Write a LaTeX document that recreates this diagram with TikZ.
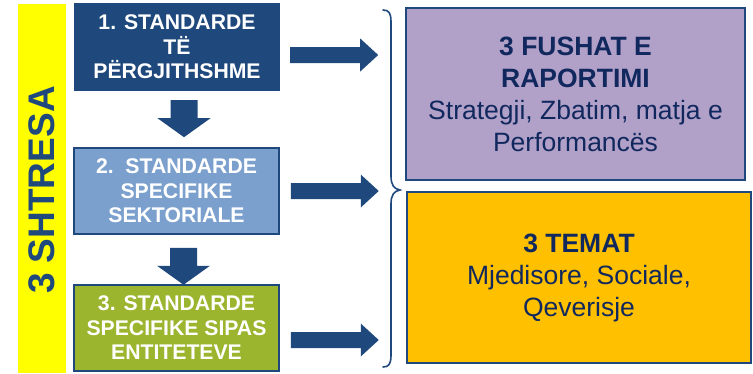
\documentclass[tikz,border=0pt]{standalone}
\usepackage{fontspec}
\setmainfont{Liberation Sans}
\usetikzlibrary{calc}
\definecolor{dblue}{HTML}{1F497D}
\definecolor{navy}{HTML}{10285E}
\definecolor{lblue}{HTML}{7BA0CD}
\definecolor{olive}{HTML}{9BB52E}
\definecolor{lilac}{HTML}{B1A0C7}
\definecolor{gold}{HTML}{FFC000}
\definecolor{ybar}{HTML}{FFFF00}
\tikzset{
  lbox/.style={rectangle, inner sep=0pt, align=center, text=white,
     font=\fontsize{21.2}{24.5}\selectfont\bfseries, minimum width=205pt, minimum height=86pt},
  rbox/.style={rectangle, draw=dblue, line width=1.5pt, inner sep=0pt, align=center, text=navy,
     font=\fontsize{26.5}{32}\selectfont},
  blk/.style={fill=dblue},
  brc/.style={draw=dblue, line width=1.6pt, line cap=round}
}
\begin{document}
\begin{tikzpicture}[x=1pt,y=-1pt]
\useasboundingbox (0,0) rectangle (753,373);
\fill[white] (0,0) rectangle (753,373);
% yellow bar
\node[rectangle, fill=ybar, minimum width=48pt, minimum height=369pt, inner sep=0pt] (bar) at (42,188.5) {};
\node[rotate=90, text=dblue, font=\fontsize{37}{40}\selectfont\bfseries] (bartxt) at (42,190) {3 SHTRESA};
% left boxes
\node[lbox, fill=dblue, minimum width=206pt, minimum height=88pt] (b1) at (177,47) {1. STANDARDE\\TË\\PËRGJITHSHME};
\node[lbox, fill=lblue, draw=dblue, line width=1.5pt] (b2) at (176.5,191) {2.\ \ STANDARDE\\SPECIFIKE\\SEKTORIALE};
\node[lbox, fill=olive, draw=dblue, line width=1.5pt] (b3) at (176.5,328) {3. STANDARDE\\SPECIFIKE SIPAS\\ENTITETEVE};
% right boxes
\node[rbox, fill=lilac, minimum width=339pt, minimum height=172pt] (r1) at (575.5,94)
  {\textbf{3 FUSHAT E}\\\textbf{RAPORTIMI}\\Strategji, Zbatim, matja e\\Performancës};
\node[rbox, fill=gold, minimum width=344pt, minimum height=171pt] (r2) at (579,277.5)
  {\textbf{3 TEMAT}\\Mjedisore, Sociale,\\Qeverisje};
% down block arrows
\coordinate (d1) at ($(b1.south)+(7,9)$);
\coordinate (d2) at ($(b2.south)+(7,13)$);
\foreach \c in {d1,d2} {
  \fill[blk] ($(\c)+(-13.5,0)$) -- ++(27,0) -- ++(0,18) -- ++(13,0) -- ++(-26.5,19) -- ++(-26.5,-19) -- ++(13,0) -- cycle;
}
% right block arrows
\coordinate (a1) at ($(b1.east)+(10,8)$);
\coordinate (a2) at ($(b2.east)+(11,0)$);
\coordinate (a3) at ($(b3.east)+(11,12)$);
\foreach \c in {a1,a2,a3} {
  \fill[blk] ($(\c)+(0,-8)$) -- ++(70,0) -- ++(0,-8.5) -- ++(18,16.5) -- ++(-18,16.5) -- ++(0,-8.5) -- ++(-70,0) -- cycle;
}
% brace
\coordinate (bt) at (383,10);
\coordinate (bm) at (400,190);
\coordinate (bb) at (383,367);
\draw[brc] (bt) .. controls (389,10) and (391,13) .. (391,22)
  -- (391,176) .. controls (391,185) and (394,189) .. (bm)
  .. controls (394,191) and (391,195) .. (391,204)
  -- (391,355) .. controls (391,364) and (389,367) .. (bb);
\end{tikzpicture}
\end{document}
